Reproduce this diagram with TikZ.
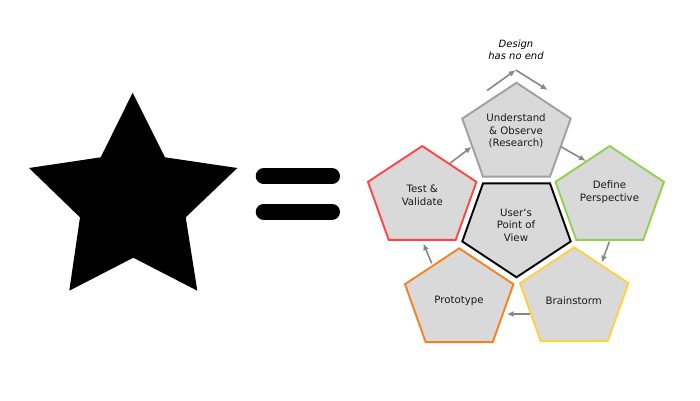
\documentclass[tikz,border=0pt]{standalone}
\usepackage{fontspec}
\setmainfont{DejaVu Sans}
\usetikzlibrary{shapes.geometric,arrows.meta}
\definecolor{pfill}{HTML}{D9D9D9}
\definecolor{txt}{HTML}{1A1A1A}
\definecolor{arrc}{HTML}{878787}
\definecolor{cgrey}{HTML}{A0A0A0}
\definecolor{cred}{HTML}{FF4545}
\definecolor{cgreen}{HTML}{92D050}
\definecolor{cyellow}{HTML}{FFD040}
\definecolor{corange}{HTML}{F5821F}
\begin{document}
\begin{tikzpicture}[x=1pt,y=-1pt,
  pent/.style={regular polygon, regular polygon sides=5, minimum size=114pt,
    inner sep=0pt, yscale=0.91, fill=pfill, line width=1.9pt, line join=miter},
  lbl/.style={align=center, font=\fontsize{10.2}{12.7}\selectfont, text=txt, inner sep=0pt},
  arr/.style={draw=arrc, line width=1.6pt, -{Latex[length=7pt,width=6pt]}},
  bar/.style={line width=16pt, line cap=round}
]
\useasboundingbox (0,0) rectangle (700,400);

% star
\fill (132.7,92.7) -- (165,157.3) -- (237.3,168) -- (185.7,217.3) -- (197.3,290.7)
  -- (133.3,257.7) -- (69.3,290.7) -- (80,217.3) -- (29,168) -- (100.7,157.3) -- cycle;

% equals sign
\draw[bar] (263.7,176.3) -- (332,176.3);
\draw[bar] (263.7,211.7) -- (332,211.7);

% pentagons
\node[pent, draw=cgrey] (und) at (516.5,134.6) {};
\node[pent, draw=cgreen] (def) at (609.7,197.9) {};
\node[pent, draw=cyellow] (brn) at (574.2,299.2) {};
\node[pent, draw=corange] (pro) at (459.2,300.2) {};
\node[pent, draw=cred] (tst) at (422.2,197.9) {};
\node[pent, draw=black, shape border rotate=180] (usr) at (516.5,225.4) {};

% labels
\node[lbl] (undt) at (516,131) {Understand\\\& Observe\\(Research)};
\node[lbl] (deft) at (609.5,192) {Define\\Perspective};
\node[lbl] (tstt) at (422.3,195) {Test \&\\Validate};
\node[lbl] (usrt) at (516,225.3) {User`s\\Point of\\View};
\node[lbl] (prot) at (459,300.7) {Prototype};
\node[lbl] (brnt) at (573.7,300.7) {Brainstorm};
\node[lbl, text=black, font=\fontsize{10}{12.3}\selectfont\itshape] (dsg) at (516,49.5) {Design\\has no end};

% chevron
\coordinate (peak) at ([shift={(-0.8,-64.6)}]und.center);
\draw[arr] ([shift={(-29.5,-44)}]und.center) -- (peak);
\draw[arr] (peak) -- ([shift={(31.2,-44.6)}]und.center);

% cycle arrows
\draw[arr] ([shift={(44.3,12.1)}]und.center) -- ([shift={(-23.7,-36.9)}]def.center);
\draw[arr] ([shift={(-0.4,43.8)}]def.center) -- ([shift={(27.5,-36.5)}]brn.center);
\draw[arr] ([shift={(-44.2,14.8)}]brn.center) -- ([shift={(47.5,13.8)}]pro.center);
\draw[arr] ([shift={(-27.5,-36.9)}]pro.center) -- ([shift={(1.1,45.4)}]tst.center);
\draw[arr] ([shift={(27.8,-34.6)}]tst.center) -- ([shift={(-44.8,12.1)}]und.center);
\end{tikzpicture}
\end{document}
